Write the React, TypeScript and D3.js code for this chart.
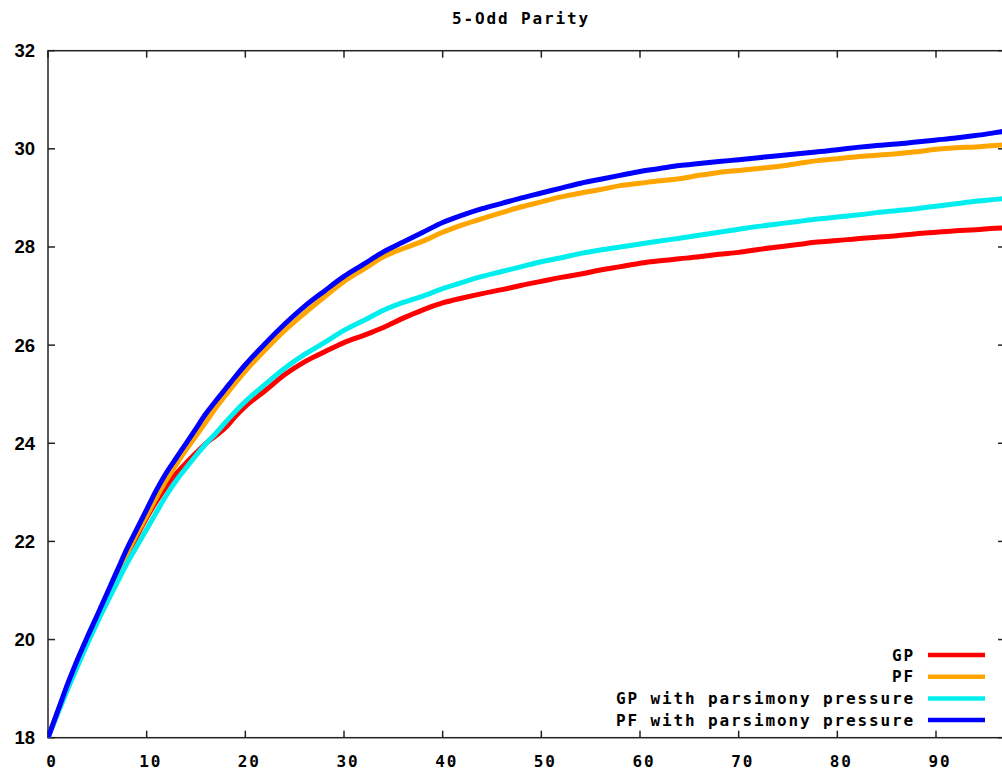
import React from "react";
import * as d3 from "d3";

const title = "5-Odd Parity";
const xTicks = [0, 10, 20, 30, 40, 50, 60, 70, 80, 90];
const yTicks = [18, 20, 22, 24, 26, 28, 30, 32];

const gens = [0, 1, 2, 3, 4, 5, 6, 7, 8, 9, 10, 11, 12, 13, 14, 15, 16, 17, 18, 19, 20, 22, 24, 26, 28, 30, 32, 34, 36, 38, 40, 42, 44, 46, 48, 50, 52, 54, 56, 58, 60, 62, 64, 66, 68, 70, 72, 74, 76, 78, 80, 82, 84, 86, 88, 90, 92, 94, 96, 97];

const gpValues = [18, 18.52, 19.03, 19.52, 19.98, 20.42, 20.85, 21.28, 21.7, 22.1, 22.48, 22.82, 23.12, 23.38, 23.6, 23.8, 24.0, 24.15, 24.32, 24.55, 24.75, 25.07, 25.4, 25.66, 25.86, 26.05, 26.2, 26.36, 26.55, 26.72, 26.86, 26.96, 27.05, 27.13, 27.22, 27.3, 27.38, 27.45, 27.53, 27.6, 27.67, 27.72, 27.76, 27.8, 27.85, 27.89, 27.95, 28.0, 28.05, 28.1, 28.13, 28.17, 28.2, 28.23, 28.27, 28.3, 28.33, 28.35, 28.38, 28.39];

const pfValues = [18, 18.53, 19.07, 19.57, 20.03, 20.47, 20.9, 21.33, 21.75, 22.15, 22.52, 22.9, 23.25, 23.57, 23.87, 24.15, 24.43, 24.72, 24.98, 25.23, 25.47, 25.9, 26.3, 26.65, 26.98, 27.3, 27.55, 27.8, 27.97, 28.12, 28.3, 28.45, 28.58, 28.7, 28.82, 28.92, 29.02, 29.1, 29.17, 29.25, 29.3, 29.35, 29.39, 29.46, 29.52, 29.56, 29.6, 29.64, 29.7, 29.76, 29.8, 29.84, 29.87, 29.9, 29.94, 29.99, 30.02, 30.04, 30.07, 30.08];

const gpPPValues = [18, 18.5, 18.99, 19.46, 19.92, 20.35, 20.76, 21.16, 21.55, 21.9, 22.25, 22.6, 22.94, 23.24, 23.5, 23.75, 23.99, 24.2, 24.43, 24.65, 24.85, 25.2, 25.53, 25.81, 26.05, 26.3, 26.5, 26.71, 26.87, 27.0, 27.15, 27.28, 27.4, 27.5, 27.6, 27.7, 27.78, 27.87, 27.94, 28.0, 28.06, 28.12, 28.18, 28.24, 28.3, 28.36, 28.42, 28.47, 28.52, 28.57, 28.61, 28.65, 28.7, 28.74, 28.78, 28.83, 28.88, 28.93, 28.97, 28.99];

const pfPPValues = [18, 18.55, 19.1, 19.6, 20.06, 20.5, 20.95, 21.4, 21.85, 22.25, 22.65, 23.05, 23.4, 23.7, 24.0, 24.3, 24.6, 24.86, 25.11, 25.36, 25.6, 26.03, 26.43, 26.79, 27.1, 27.4, 27.65, 27.9, 28.1, 28.3, 28.5, 28.65, 28.78, 28.89, 29.0, 29.1, 29.2, 29.3, 29.38, 29.46, 29.54, 29.6, 29.66, 29.7, 29.74, 29.78, 29.82, 29.86, 29.9, 29.94, 29.98, 30.03, 30.07, 30.1, 30.14, 30.18, 30.22, 30.27, 30.33, 30.36];

const seriesNames = ["GP", "PF", "GP with parsimony pressure", "PF with parsimony pressure"];
const seriesColors = ["#ff0000", "#ffa500", "#00eeee", "#0000ff"];
const seriesValues = [gpValues, pfValues, gpPPValues, pfPPValues];

const pixFont = "'DejaVu Sans Mono', monospace";
const pixSize = 16;
const pixSpacing = 11.5 - 0.602 * pixSize;

export default function App() {
  const W = 1002;
  const H = 774;
  const x = d3.scaleLinear().domain([0, 90]).range([48, 936]);
  const y = d3.scaleLinear().domain([18, 32]).range([737.7, 50.7]);
  const xMax = 97;
  const left = x(0);
  const right = x(xMax);
  const top = y(32);
  const bottom = y(18);
  const tick = 7;

  const line = d3
    .line<number>()
    .x((_, i) => x(gens[i]))
    .y((d) => y(d))
    .curve(d3.curveMonotoneX);

  const legendTextX = 915;
  const legendLineX1 = 928;
  const legendLineX2 = 985;
  const legendY0 = 655;
  const legendDy = 21.7;

  return (
    <svg
      width={W}
      height={H}
      style={{ position: "absolute", left: 0, top: 0, display: "block", background: "#fff" }}
    >
      <defs>
        <clipPath id="plotClip">
          <rect x={left} y={top - 3} width={right - left} height={bottom - top + 3} />
        </clipPath>
      </defs>
      <rect x={0} y={0} width={W} height={H} fill="#fff" />

      <text
        x={521}
        y={18}
        textAnchor="middle"
        dominantBaseline="central"
        fontFamily={pixFont}
        fontWeight="bold"
        fontSize={pixSize}
        letterSpacing={pixSpacing}
        fill="#000"
      >
        {title}
      </text>

      {yTicks.map((t) => (
        <g key={"y" + t}>
          <line x1={left} x2={left + tick} y1={y(t)} y2={y(t)} stroke="#222" strokeWidth={1.5} />
          <line x1={right} x2={right - tick} y1={y(t)} y2={y(t)} stroke="#222" strokeWidth={1.5} />
          <text
            x={35}
            y={y(t)}
            textAnchor="end"
            dominantBaseline="central"
            fontFamily="'Liberation Sans', Arial, sans-serif"
            fontWeight="bold"
            fontSize={18.5}
            fill="#000"
          >
            {t}
          </text>
        </g>
      ))}
      {xTicks.map((t) => (
        <g key={"x" + t}>
          <line x1={x(t)} x2={x(t)} y1={bottom} y2={bottom - tick} stroke="#222" strokeWidth={1.5} />
          <line x1={x(t)} x2={x(t)} y1={top} y2={top + tick} stroke="#222" strokeWidth={1.5} />
          <text
            x={x(t) + 4}
            y={761}
            textAnchor="middle"
            dominantBaseline="central"
            fontFamily={pixFont}
            fontWeight="bold"
            fontSize={pixSize}
            letterSpacing={pixSpacing}
            fill="#000"
          >
            {t}
          </text>
        </g>
      ))}

      <rect
        x={left}
        y={top}
        width={right - left}
        height={bottom - top}
        fill="none"
        stroke="#222"
        strokeWidth={1.5}
      />

      <g clipPath="url(#plotClip)">
        {seriesValues.map((vals, i) => (
          <path
            key={seriesNames[i]}
            d={line(vals) || ""}
            fill="none"
            stroke={seriesColors[i]}
            strokeWidth={5}
            strokeLinejoin="round"
            strokeLinecap="butt"
          />
        ))}
      </g>

      {seriesNames.map((name, i) => (
        <g key={"leg" + name}>
          <text
            x={legendTextX}
            y={legendY0 + i * legendDy}
            textAnchor="end"
            dominantBaseline="central"
            fontFamily={pixFont}
            fontWeight="bold"
            fontSize={pixSize}
            letterSpacing={pixSpacing}
            fill="#000"
          >
            {name}
          </text>
          <line
            x1={legendLineX1}
            x2={legendLineX2}
            y1={legendY0 + i * legendDy}
            y2={legendY0 + i * legendDy}
            stroke={seriesColors[i]}
            strokeWidth={4.5}
          />
        </g>
      ))}
    </svg>
  );
}
